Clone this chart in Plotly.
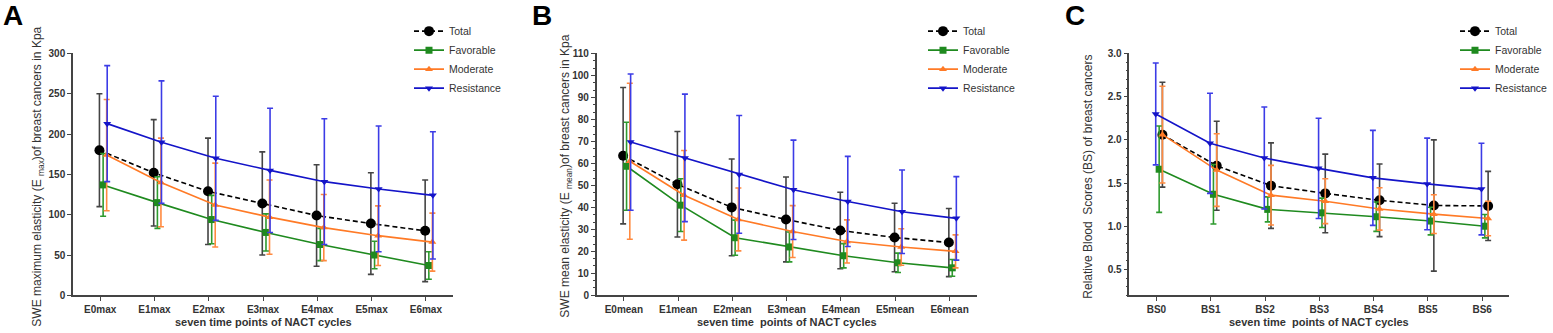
import plotly.graph_objects as go

W, H = 1553, 333

# ---------------- data ----------------
labels_a = ["E0max", "E1max", "E2max", "E3max", "E4max", "E5max", "E6max"]
labels_b = ["E0mean", "E1mean", "E2mean", "E3mean", "E4mean", "E5mean", "E6mean"]
labels_c = ["BS0", "BS1", "BS2", "BS3", "BS4", "BS5", "BS6"]

series_names = ["Total", "Favorable", "Moderate", "Resistance"]

# Panel A: SWE maximum elasticity (kPa), mean and SD
a_total_mean = [180, 152, 129, 114, 99, 89, 80]
a_total_sd = [70, 66, 66, 64, 63, 63, 63]
a_fav_mean = [137, 115, 94, 78, 63, 50, 37]
a_fav_sd = [39, 32, 30, 23, 20, 17, 17]
a_mod_mean = [174, 140, 112, 97, 84, 74, 66]
a_mod_sd = [69, 55, 52, 46, 41, 37, 36]
a_res_mean = [213, 190, 170, 155, 141, 132, 124]
a_res_sd = [72, 76, 77, 77, 78, 78, 79]

# Panel B: SWE mean elasticity (kPa)
b_total_mean = [63.5, 50.5, 40, 34.5, 29.5, 26.3, 24]
b_total_sd = [31, 24, 22, 19.3, 17.4, 15.6, 15.5]
b_fav_mean = [58.7, 41, 26.2, 22, 18, 14.8, 12.5]
b_fav_sd = [20, 12, 8, 6.8, 5.5, 4.4, 3.8]
b_mod_mean = [61, 45.5, 34.5, 29, 24.5, 22, 20]
b_mod_sd = [35.5, 20.4, 14.3, 11.8, 9.8, 8.3, 7.5]
b_res_mean = [69.7, 62.5, 55, 48, 42.7, 38, 35]
b_res_sd = [31, 29, 26.8, 22.6, 20.5, 19, 19]

# Panel C: relative blood scores
c_total_mean = [2.06, 1.70, 1.47, 1.38, 1.30, 1.24, 1.235]
c_total_sd = [0.607, 0.515, 0.495, 0.455, 0.42, 0.76, 0.40]
c_fav_mean = [1.66, 1.37, 1.195, 1.155, 1.11, 1.06, 1.0]
c_fav_sd = [0.5, 0.345, 0.145, 0.17, 0.17, 0.16, 0.135]
c_mod_mean = [2.06, 1.65, 1.36, 1.29, 1.20, 1.14, 1.09]
c_mod_sd = [0.56, 0.42, 0.345, 0.26, 0.245, 0.225, 0.2]
c_res_mean = [2.30, 1.96, 1.79, 1.67, 1.56, 1.49, 1.43]
c_res_sd = [0.59, 0.58, 0.59, 0.58, 0.55, 0.53, 0.53]

# ---------------- styles ----------------
FONT = "Liberation Sans, Arial, sans-serif"
TXT = "#333333"
styles = {
    "Total": dict(color="#000000", err="#444444", symbol="circle", size=10, dash="5px,3px"),
    "Favorable": dict(color="#1f8a1f", err="#2e9a2e", symbol="square", size=7, dash="solid"),
    "Moderate": dict(color="#ff7a26", err="#ff8a40", symbol="triangle-up", size=7, dash="solid"),
    "Resistance": dict(color="#1414c8", err="#3c3ce6", symbol="triangle-down", size=7, dash="solid"),
}

panels = [
    dict(labels=labels_a, means=[a_total_mean, a_fav_mean, a_mod_mean, a_res_mean],
         sds=[a_total_sd, a_fav_sd, a_mod_sd, a_res_sd],
         offsets=[-0.013, 0.055, 0.12, 0.13], px=(73, 453), yrange=[0, 300], dtick=50,
         fmt="d", minor=None, legend=dict(x=409 / W, xanchor="left"), ytitle_x=38,
         ytitle="SWE maximum elasticity (E <sub>max</sub>)of breast cancers in Kpa",
         xtitle="seven time points of NACT cycles", letter="A", letter_x=1),
    dict(labels=labels_b, means=[b_total_mean, b_fav_mean, b_mod_mean, b_res_mean],
         sds=[b_total_sd, b_fav_sd, b_mod_sd, b_res_sd],
         offsets=[-0.013, 0.05, 0.11, 0.125], px=(596.7, 976.7), yrange=[0, 110], dtick=10,
         fmt="d", minor=10 / 3, legend=dict(x=923 / W, xanchor="left"), ytitle_x=566,
         ytitle="SWE mean elasticity (E <sub>mean</sub>)of breast cancers in Kpa",
         xtitle="seven time  points of NACT cycles", letter="B", letter_x=530),
    dict(labels=labels_c, means=[c_total_mean, c_fav_mean, c_mod_mean, c_res_mean],
         sds=[c_total_sd, c_fav_sd, c_mod_sd, c_res_sd],
         offsets=[0.11, 0.05, 0.11, -0.013], px=(1129.3, 1509.3), yrange=[0.2, 3.0], dtick=0.5,
         fmt=".1f", minor=0.1, legend=dict(x=1.0, xanchor="right"), ytitle_x=1088,
         ytitle="Relative Blood  Scores (BS) of breast cancers",
         xtitle="seven time  points of NACT cycles", letter="C", letter_x=1063),
]

fig = go.Figure()
ydom = [1 - 299.3 / H, 1 - 50 / H]
annotations = []

for i, p in enumerate(panels):
    idx = "" if i == 0 else str(i + 1)
    xa, ya = "x" + idx, "y" + idx
    leg = "legend" + idx
    for name, m, s, off in zip(series_names, p["means"], p["sds"], p["offsets"]):
        st = styles[name]
        xs = [k + off for k in range(len(m))]
        fig.add_trace(go.Scatter(
            x=xs, y=m, name=name, mode="lines+markers",
            line=dict(color=st["color"], width=1.6, dash=st["dash"]),
            marker=dict(symbol=st["symbol"], size=st["size"], color=st["color"]),
            error_y=dict(type="data", array=s, visible=True, color=st["err"],
                         thickness=1.6, width=3),
            xaxis=xa, yaxis=ya, legend=leg, cliponaxis=False,
        ))
    x0, x1 = p["px"]
    dom = [x0 / W, x1 / W]
    fig.layout["xaxis" + idx] = dict(
        domain=dom, anchor=ya, range=[-0.5, 6.5], tickmode="array",
        tickvals=list(range(7)), ticktext=p["labels"], showgrid=False, zeroline=False,
        showline=True, linecolor="#444444", linewidth=1.5, ticks="outside", ticklen=4,
        tickwidth=1.3, tickcolor="#444444",
        tickfont=dict(family=FONT, size=10, color=TXT, weight="bold"),
    )
    yax = dict(
        domain=ydom, anchor=xa, range=p["yrange"], dtick=p["dtick"], tick0=0,
        tickformat=p["fmt"],
        showgrid=False, zeroline=False, showline=True, linecolor="#444444", linewidth=1.5,
        ticks="outside", ticklen=4, tickwidth=1.3, tickcolor="#444444",
        tickfont=dict(family=FONT, size=10, color=TXT, weight="bold"),
    )
    if p["minor"]:
        yax["minor"] = dict(dtick=p["minor"], tick0=0, ticks="outside", ticklen=2,
                            tickcolor="#444444", tickwidth=1)
    fig.layout["yaxis" + idx] = yax
    fig.layout[leg] = dict(
        y=1 - 12 / H, yanchor="top",
        font=dict(family=FONT, size=10.5, color=TXT), bgcolor="rgba(0,0,0,0)",
        itemwidth=30, tracegroupgap=0, **p["legend"],
    )
    # panel letter
    annotations.append(dict(
        text="<b>" + p["letter"] + "</b>", x=p["letter_x"] / W, y=1 - 11 / H,
        xref="paper", yref="paper", xanchor="left", yanchor="middle", showarrow=False,
        font=dict(family=FONT, size=28, color="#000000"),
    ))
    # x-axis title
    annotations.append(dict(
        text="<b>" + p["xtitle"] + "</b>", x=(x0 + x1) / 2 / W, y=1 - 327 / H,
        xref="paper", yref="paper", xanchor="center", yanchor="middle", showarrow=False,
        font=dict(family=FONT, size=11, color=TXT),
    ))
    # y-axis title
    annotations.append(dict(
        text=p["ytitle"], x=p["ytitle_x"] / W, y=1 - 177 / H, textangle=-90,
        xref="paper", yref="paper", xanchor="center", yanchor="middle", showarrow=False,
        font=dict(family=FONT, size=12, color=TXT),
    ))

fig.update_layout(
    width=W, height=H, margin=dict(l=0, r=0, t=0, b=0),
    paper_bgcolor="white", plot_bgcolor="white", showlegend=True,
    annotations=annotations,
)

# remove the browser's default 8px page margin so the figure fills the window exactly
fig.write_html("out.html", config={"displayModeBar": False},
               post_script="document.body.style.margin='0';")
